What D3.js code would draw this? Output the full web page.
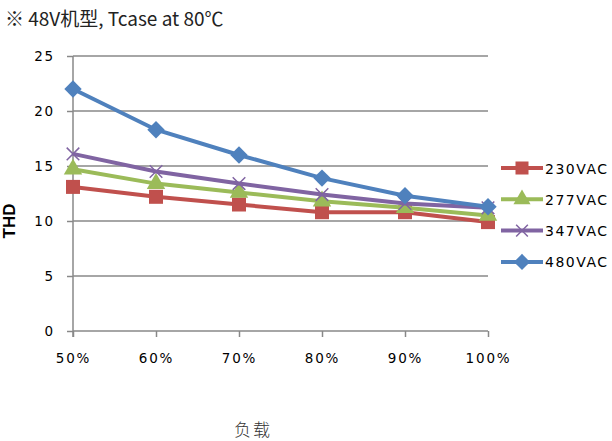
<!DOCTYPE html>
<html>
<head>
<meta charset="utf-8">
<script src="https://cdn.jsdelivr.net/npm/d3@7"></script>
<style>
  body { margin: 0; background: #fff; }
  svg { display: block; }
</style>
</head>
<body>
<div id="chart"></div>
<script>
const loads = ["50%", "60%", "70%", "80%", "90%", "100%"];
const seriesNames = ["230VAC", "277VAC", "347VAC", "480VAC"];
const v230 = [13.1, 12.2, 11.5, 10.8, 10.8, 9.9];
const v277 = [14.7, 13.4, 12.6, 11.8, 11.2, 10.5];
const v347 = [16.1, 14.5, 13.4, 12.4, 11.6, 11.2];
const v480 = [22.0, 18.3, 16.0, 13.9, 12.3, 11.3];
const yTicks = [0, 5, 10, 15, 20, 25];

const colors = ["#C0504D", "#9BBB59", "#8064A2", "#4F81BD"];
const markers = ["square", "triangle", "cross", "diamond"];
const allValues = [v230, v277, v347, v480];

const width = 612, height = 441;
const margin = {top: 56, right: 124, bottom: 110, left: 73};
const w = width - margin.left - margin.right,
      h = height - margin.top - margin.bottom;

const svg = d3.select("#chart").append("svg")
    .attr("width", width)
    .attr("height", height);

// title
svg.append("text")
    .attr("x", 5).attr("y", 26)
    .attr("font-family", "'Liberation Sans Narrow', 'Noto Sans CJK SC', sans-serif")
    .attr("font-size", 19)
    .attr("fill", "#222")
    .text("※ 48V机型, Tcase at 80℃");

const g = svg.append("g")
    .attr("transform", "translate(" + margin.left + "," + margin.top + ")");

const x = d3.scalePoint().domain(loads).range([0, w]);
const y = d3.scaleLinear().domain([0, 25]).range([h, 0]);

// gridlines
g.selectAll(".grid").data(yTicks.filter(d => d > 0)).enter().append("line")
    .attr("x1", 0).attr("x2", w)
    .attr("y1", d => y(d)).attr("y2", d => y(d))
    .attr("stroke", "#888").attr("stroke-width", 1.5);

// y axis
const yAxis = g.append("g")
    .call(d3.axisLeft(y).tickValues(yTicks).tickSize(6).tickPadding(12));
yAxis.select(".domain").attr("stroke", "#888").attr("stroke-width", 1.5).attr("d", "M0," + y(25) + "V" + (h + 6));
yAxis.selectAll(".tick line").attr("stroke", "#888").attr("stroke-width", 1.5);

// x axis
const xAxis = g.append("g")
    .attr("transform", "translate(0," + h + ")")
    .call(d3.axisBottom(x).tickSize(6).tickPadding(16));
xAxis.select(".domain").attr("stroke", "#888").attr("stroke-width", 1.5).attr("d", "M0,0H" + w);
xAxis.selectAll(".tick line").attr("stroke", "#888").attr("stroke-width", 1.5);

[yAxis, xAxis].forEach(ax => ax.selectAll(".tick text")
    .attr("font-family", "'DejaVu Sans', sans-serif")
    .attr("font-size", 13.5)
    .attr("letter-spacing", "1.8px")
    .attr("fill", "#000"));

// y label
svg.append("text")
    .attr("transform", "translate(15,221) rotate(-90)")
    .attr("text-anchor", "middle")
    .attr("font-family", "'Liberation Sans', sans-serif")
    .attr("font-weight", "bold")
    .attr("font-size", 17)
    .text("THD");

// x label
svg.append("text")
    .attr("x", 253).attr("y", 436)
    .attr("text-anchor", "middle")
    .attr("font-family", "'Noto Sans CJK SC', sans-serif")
    .attr("font-weight", 300)
    .attr("font-size", 17)
    .attr("letter-spacing", "2px")
    .attr("fill", "#333")
    .text("负载");

function drawMarker(sel, type, color, size) {
  if (type === "square") {
    sel.append("rect").attr("x", -size / 2).attr("y", -size / 2)
      .attr("width", size).attr("height", size).attr("fill", color);
  } else if (type === "triangle") {
    sel.append("path").attr("d", d3.symbol(d3.symbolTriangle, size * size * 0.75)()).attr("fill", color);
  } else if (type === "diamond") {
    const s = size * 0.62;
    sel.append("path").attr("d", `M0,${-s}L${s},0L0,${s}L${-s},0Z`).attr("fill", color);
  } else {
    const s = size * 0.45;
    sel.append("path").attr("d", `M${-s},${-s}L${s},${s}M${-s},${s}L${s},${-s}`)
      .attr("stroke", color).attr("stroke-width", 1.5).attr("fill", "none");
  }
}

const line = d3.line().x((d, i) => x(loads[i])).y(d => y(d));

allValues.forEach((vals, si) => {
  g.append("path").datum(vals)
    .attr("fill", "none")
    .attr("stroke", colors[si])
    .attr("stroke-width", 4)
    .attr("d", line);
  vals.forEach((v, i) => {
    const m = g.append("g").attr("transform", "translate(" + x(loads[i]) + "," + y(v) + ")");
    drawMarker(m, markers[si], colors[si], 14);
  });
});

// legend
const legend = svg.append("g").attr("transform", "translate(501,168)");
seriesNames.forEach((name, i) => {
  const row = legend.append("g").attr("transform", "translate(0," + (i * 31.3) + ")");
  row.append("line").attr("x1", 0).attr("x2", 42).attr("y1", 0).attr("y2", 0)
    .attr("stroke", colors[i]).attr("stroke-width", 4);
  const m = row.append("g").attr("transform", "translate(21,0)");
  drawMarker(m, markers[i], colors[i], 13);
  row.append("text").attr("x", 44).attr("y", 5.5)
    .attr("font-family", "'DejaVu Sans', sans-serif")
    .attr("font-size", 14)
    .attr("letter-spacing", "1.5px")
    .text(name);
});
</script>
</body>
</html>
